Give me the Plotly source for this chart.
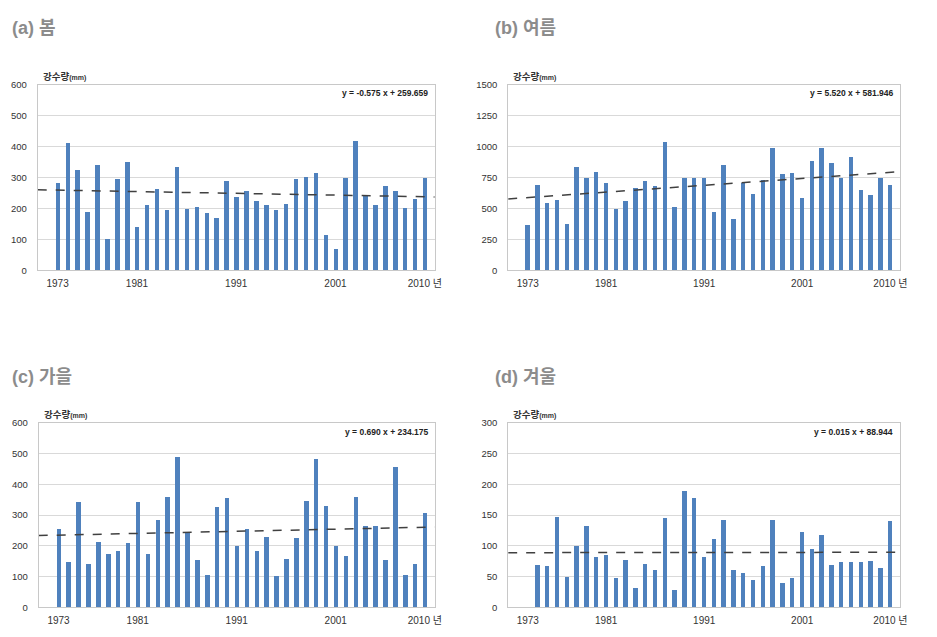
import plotly.graph_objects as go

# Seasonal precipitation totals (mm), 1973-2010
years = list(range(1973, 2011))

spring = [285, 414, 326, 189, 341, 101, 297, 351, 141, 213, 264, 197, 335, 201, 205, 186, 171, 289,
          238, 258, 226, 213, 195, 215, 297, 304, 317, 116, 71, 301, 419, 240, 212, 274, 256, 204, 231, 301]
summer = [371, 692, 549, 570, 374, 840, 748, 795, 710, 498, 565, 665, 724, 684, 1037, 517, 753, 748,
          748, 472, 856, 414, 708, 623, 729, 991, 782, 793, 589, 888, 991, 870, 745, 915, 655, 612, 753, 695]
autumn = [255, 150, 345, 141, 213, 173, 184, 210, 345, 175, 284, 359, 491, 246, 156, 105, 327, 356,
          199, 255, 184, 230, 104, 159, 228, 347, 483, 330, 199, 168, 360, 264, 267, 155, 456, 108, 142, 308]
winter = [None, 70, 68, 148, 50, 100, 133, 82, 85, 48, 78, 32, 71, 62, 145, 29, 190, 179,
          82, 112, 143, 61, 56, 45, 68, 142, 41, 48, 123, 96, 118, 69, 74, 75, 75, 76, 65, 141]

# Linear trend coefficients (slope, intercept), x = 1 for 1973
trend_spring = (-0.575, 259.659)
trend_summer = (5.520, 581.946)
trend_autumn = (0.690, 234.175)
trend_winter = (0.015, 88.944)

titles = ["(a) 봄", "(b) 여름", "(c) 가을", "(d) 겨울"]
y_max = [600, 1500, 600, 300]
y_step = [100, 250, 100, 50]
x_tickvals = [1973, 1981, 1991, 2001, 2010]
x_ticktext = ["1973", "1981", "1991", "2001", "2010 년"]

W, H = 937, 637
BAR = "#4f81bd"
FONT = "Liberation Sans, Noto Sans CJK KR"

# plot-area boxes in pixels: (left, right, top, bottom)
boxes = [(38, 438, 80, 269), (512, 907, 80, 269), (39, 438, 424, 612), (512, 907, 424, 612)]
title_pos = [(10, 22), (497, 22), (10, 378), (497, 378)]

series = [spring, summer, autumn, winter]
trends = [trend_spring, trend_summer, trend_autumn, trend_winter]

fig = go.Figure()
x0, x1 = 1971, 2011

for i in range(4):
    ax = "" if i == 0 else str(i + 1)
    l, r, t, b = boxes[i]
    fig.add_trace(go.Bar(x=years, y=series[i], width=0.45, marker_color=BAR,
                         marker_line_width=0, xaxis="x" + ax, yaxis="y" + ax,
                         showlegend=False, hoverinfo="x+y"))
    m, c = trends[i]
    tx = [x0, x1]
    ty = [m * (x - 1972) + c for x in tx]
    fig.add_trace(go.Scatter(x=tx, y=ty, mode="lines",
                             line=dict(color="#404040", width=1.5, dash="dash"),
                             xaxis="x" + ax, yaxis="y" + ax, showlegend=False,
                             hoverinfo="skip"))
    fig.layout["xaxis" + ax] = dict(
        domain=[l / W, r / W], anchor="y" + ax, range=[x0, x1],
        tickvals=x_tickvals, ticktext=x_ticktext, showgrid=False,
        showline=True, mirror=True, linecolor="#c8c8c8", linewidth=1,
        ticks="outside", ticklen=4, tickcolor="rgba(0,0,0,0)",
        tickfont=dict(family=FONT, size=10, color="#333333"), zeroline=False)
    fig.layout["yaxis" + ax] = dict(
        domain=[1 - b / H, 1 - t / H], anchor="x" + ax, range=[0, y_max[i]],
        dtick=y_step[i], tick0=0, showgrid=True, gridcolor="#d9d9d9", gridwidth=1,
        showline=True, mirror=True, linecolor="#c8c8c8", linewidth=1,
        ticks="outside", ticklen=8, tickcolor="rgba(0,0,0,0)",
        tickfont=dict(family=FONT, size=9.5, color="#333333"), zeroline=False)

    tx_, ty_ = title_pos[i]
    fig.add_annotation(text="<b>" + titles[i] + "</b>", xref="paper", yref="paper",
                       x=tx_ / W, y=1 - ty_ / H, xanchor="left", yanchor="middle",
                       showarrow=False, font=dict(family=FONT, size=18, color="#8c8c8c"))
    fig.add_annotation(text="<b>강수량<span style='font-size:7px'>(mm)</span></b>",
                       xref="paper", yref="paper", x=(l + 3) / W, y=1 - (t - 8) / H,
                       xanchor="left", yanchor="middle", showarrow=False,
                       font=dict(family=FONT, size=9.5, color="#333333"))
    sign = "-" if m < 0 else ""
    eq = "y = %s%.3f x + %.3f" % (sign, abs(m), c)
    fig.add_annotation(text="<b>" + eq + "</b>", xref="paper", yref="paper",
                       x=(r - 5) / W, y=1 - (t + 9) / H, xanchor="right", yanchor="middle",
                       showarrow=False, font=dict(family=FONT, size=8.5, color="#222222"))

fig.update_layout(width=W, height=H, margin=dict(l=0, r=0, t=0, b=0),
                  paper_bgcolor="white", plot_bgcolor="white", bargap=0)
fig.write_html("out.html")
